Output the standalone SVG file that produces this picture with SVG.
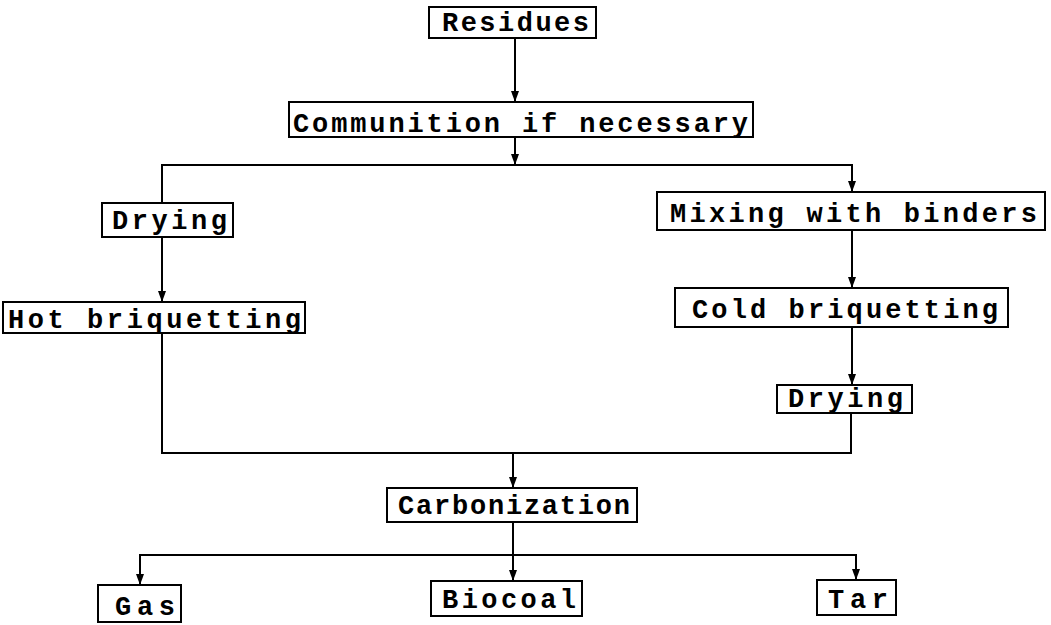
<svg xmlns="http://www.w3.org/2000/svg" width="1051" height="625" viewBox="0 0 1051 625">
<style>
.box{fill:#fff;stroke:#000;stroke-width:2}
.lbl{font-family:"Liberation Mono","Courier New",monospace;font-weight:bold;font-size:27px;fill:#000}
.ln{fill:none;stroke:#000;stroke-width:2}
</style>
<defs>
<marker id="ah" viewBox="0 0 11 8" refX="11" refY="4" markerWidth="11" markerHeight="8" markerUnits="userSpaceOnUse" orient="auto">
<path d="M0,0 L11,4 L0,8 z" fill="#000"/>
</marker>
</defs>
<rect width="1051" height="625" fill="#fff"/>
<g id="connectors">
<path class="ln" d="M515,38 V102" marker-end="url(#ah)"/>
<path class="ln" d="M515,137 V165" marker-end="url(#ah)"/>
<path class="ln" d="M162,203 V165 H852 V192" marker-end="url(#ah)"/>
<path class="ln" d="M162,237 V302" marker-end="url(#ah)"/>
<path class="ln" d="M852,230 V288" marker-end="url(#ah)"/>
<path class="ln" d="M852,327 V385" marker-end="url(#ah)"/>
<path class="ln" d="M162,333 V453 H851 V413"/>
<path class="ln" d="M513,453 V488" marker-end="url(#ah)"/>
<path class="ln" d="M513,522 V581" marker-end="url(#ah)"/>
<path class="ln" d="M513,555 H140 V585" marker-end="url(#ah)"/>
<path class="ln" d="M513,555 H856 V580" marker-end="url(#ah)"/>
</g>
<g id="residues"><rect class="box" x="429" y="7" width="167" height="31"/><text class="lbl" x="442" y="31" textLength="147" lengthAdjust="spacing">Residues</text></g>
<g id="communition"><rect class="box" x="289" y="102" width="464" height="35"/><text class="lbl" x="293" y="132" textLength="455" lengthAdjust="spacing">Communition if necessary</text></g>
<g id="drying-left"><rect class="box" x="102" y="203" width="131" height="34"/><text class="lbl" x="112" y="229" textLength="115" lengthAdjust="spacing">Drying</text></g>
<g id="hot-briquetting"><rect class="box" x="3" y="302" width="302" height="31"/><text class="lbl" x="8" y="328" textLength="293" lengthAdjust="spacing">Hot briquetting</text></g>
<g id="mixing"><rect class="box" x="657" y="192" width="388" height="38"/><text class="lbl" x="670" y="222" textLength="367" lengthAdjust="spacing">Mixing with binders</text></g>
<g id="cold-briquetting"><rect class="box" x="675" y="288" width="333" height="39"/><text class="lbl" x="692" y="318" textLength="306" lengthAdjust="spacing">Cold briquetting</text></g>
<g id="drying-right"><rect class="box" x="777" y="385" width="135" height="28"/><text class="lbl" x="788" y="407" textLength="115" lengthAdjust="spacing">Drying</text></g>
<g id="carbonization"><rect class="box" x="387" y="488" width="250" height="34"/><text class="lbl" x="398" y="514" textLength="232" lengthAdjust="spacing">Carbonization</text></g>
<g id="gas"><rect class="box" x="98" y="585" width="83" height="37"/><text class="lbl" x="115" y="615" textLength="60" lengthAdjust="spacing">Gas</text></g>
<g id="biocoal"><rect class="box" x="431" y="581" width="151" height="35"/><text class="lbl" x="442" y="608" textLength="134" lengthAdjust="spacing">Biocoal</text></g>
<g id="tar"><rect class="box" x="817" y="580" width="79" height="35"/><text class="lbl" x="828" y="608" textLength="60" lengthAdjust="spacing">Tar</text></g>
</svg>
